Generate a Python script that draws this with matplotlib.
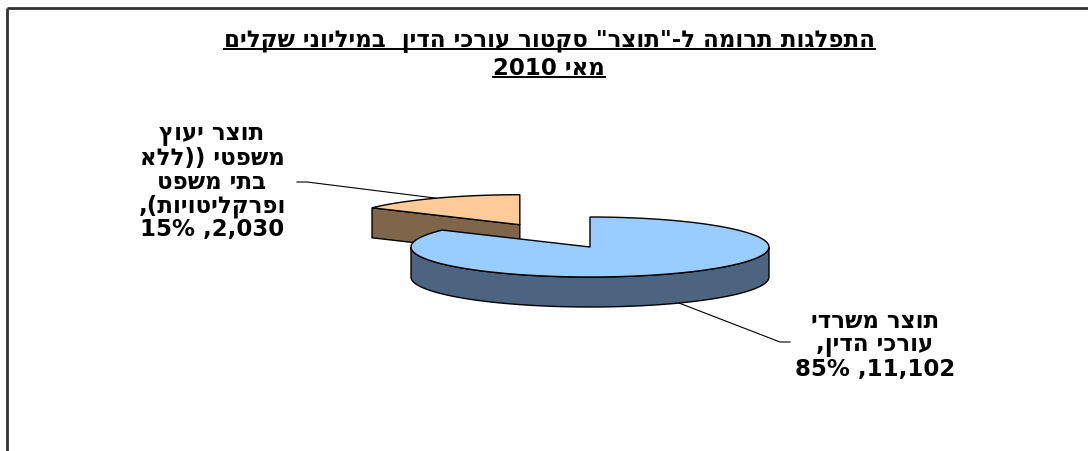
import re
import numpy as np
import matplotlib
matplotlib.use("Agg")
import matplotlib.pyplot as plt
from matplotlib.patches import Polygon

plt.rcParams['font.family'] = ['DejaVu Sans', 'Liberation Sans']

# data (logical Hebrew text, values in millions of NIS)
title_lines = ['התפלגות תרומה ל-"תוצר" סקטור עורכי הדין  במיליוני שקלים', 'מאי 2010']
categories = ['תוצר משרדי עורכי הדין', 'תוצר יעוץ משפטי ((ללא בתי משפט ופרקליטויות)']
label_lines = [['תוצר משרדי', 'עורכי הדין,'],
               ['תוצר יעוץ', 'משפטי ((ללא', 'בתי משפט', 'ופרקליטויות),']]
values = [11102, 2030]
top_colors = ['#99CCFF', '#FFCC99']
side_colors = ['#4C6480', '#7F654A']
explode = [0.0, 0.84]


def visual(s):
    # matplotlib has no bidi support: flip to visual order, keep numbers readable
    r = s[::-1].translate(str.maketrans('()', ')('))
    return re.sub(r'%?[0-9][0-9,.]*[0-9]|[0-9]', lambda m: m.group(0)[::-1], r)


fig = plt.figure(figsize=(10.88, 4.52), dpi=100)
ax = fig.add_axes([0, 0, 1, 1])
ax.set_xlim(0, 1088)
ax.set_ylim(452, 0)
ax.axis('off')

# frame (only top and left edges show in the crop)
ax.plot([7, 1088], [9, 9], color='#333333', lw=2, solid_capstyle='butt')
ax.plot([7, 7], [9, 452], color='#333333', lw=2, solid_capstyle='butt')

# 3D pie geometry
cx, cy, rx, ry, depth = 590, 248, 179, 30, 30
vals = np.array(values, dtype=float)
fracs = vals / vals.sum()
ends = 90 - 360 * np.cumsum(fracs)
starts = ends + 360 * fracs


def pt(x0, y0, t, dz=0):
    t = np.radians(t)
    return x0 + rx * np.cos(t), y0 - ry * np.sin(t) + dz


def arc(x0, y0, t0, t1, dz=0, n=120):
    ts = np.linspace(t0, t1, n)
    return [pt(x0, y0, t, dz) for t in ts]


slices = []
for i in range(len(values)):
    t0, t1 = ends[i], starts[i]
    mid = (t0 + t1) / 2
    ox = rx * explode[i] * np.cos(np.radians(mid))
    oy = -ry * explode[i] * np.sin(np.radians(mid))
    slices.append((t0, t1, mid, cx + ox, cy + oy))

# draw back (exploded) slice first
for i in [1, 0]:
    t0, t1, mid, x0, y0 = slices[i]
    # radial cut faces facing the viewer
    for t, nrm in [(t0, t0 - 90), (t1, t1 + 90)]:
        if np.sin(np.radians(nrm)) < -0.01:
            rxp, ryp = pt(x0, y0, t)
            face = [(x0, y0), (rxp, ryp), (rxp, ryp + depth), (x0, y0 + depth)]
            ax.add_patch(Polygon(face, closed=True, fc=side_colors[i], ec='black', lw=1))
    # front rim (angles 180..360)
    for k in range(-1, 2):
        s0 = max(t0 + 360 * k, 180)
        s1 = min(t1 + 360 * k, 360)
        if s1 > s0:
            top = arc(x0, y0, s0, s1)
            bot = arc(x0, y0, s1, s0, depth)
            ax.add_patch(Polygon(top + bot, closed=True, fc=side_colors[i], ec='black', lw=1))
    # top face
    poly = [(x0, y0)] + arc(x0, y0, t0, t1)
    ax.add_patch(Polygon(poly, closed=True, fc=top_colors[i], ec='black', lw=1))

fs = 16.5
# title with underline
title_y = [47, 75]
fig.canvas.draw()
inv = ax.transData.inverted()
for line, y in zip(title_lines, title_y):
    t = ax.text(549, y, visual(line), ha='center', va='baseline', fontsize=fs,
                fontweight='bold')
    bb = t.get_window_extent(fig.canvas.get_renderer())
    (xa, _), (xb, _) = inv.transform([(bb.x0, bb.y0), (bb.x1, bb.y0)])
    ax.plot([xa, xb], [y + 2.5, y + 2.5], color='black', lw=1.4)

# data labels
label_pos = [(875, 322), (212, 135)]
line_h = 23.7
for i in range(len(values)):
    lines = label_lines[i] + ['%s, %d%%' % (f'{values[i]:,}', round(fracs[i] * 100))]
    lx, ly = label_pos[i]
    for j, line in enumerate(lines):
        ax.text(lx, ly + j * line_h, visual(line), ha='center', va='center',
                fontsize=fs, fontweight='bold')

# leader lines
t0, t1, mid, x0, y0 = slices[0]
sx, sy = pt(x0, y0, mid + 2, depth)
ax.plot([sx, 780, 790], [sy, 343, 343], color='black', lw=0.8)
t0, t1, mid, x0, y0 = slices[1]
sx, sy = pt(x0, y0, mid)
ax.plot([297, 307, sx], [183, 183, sy], color='black', lw=0.8)

fig.savefig('out.png', dpi=100, facecolor='white')
